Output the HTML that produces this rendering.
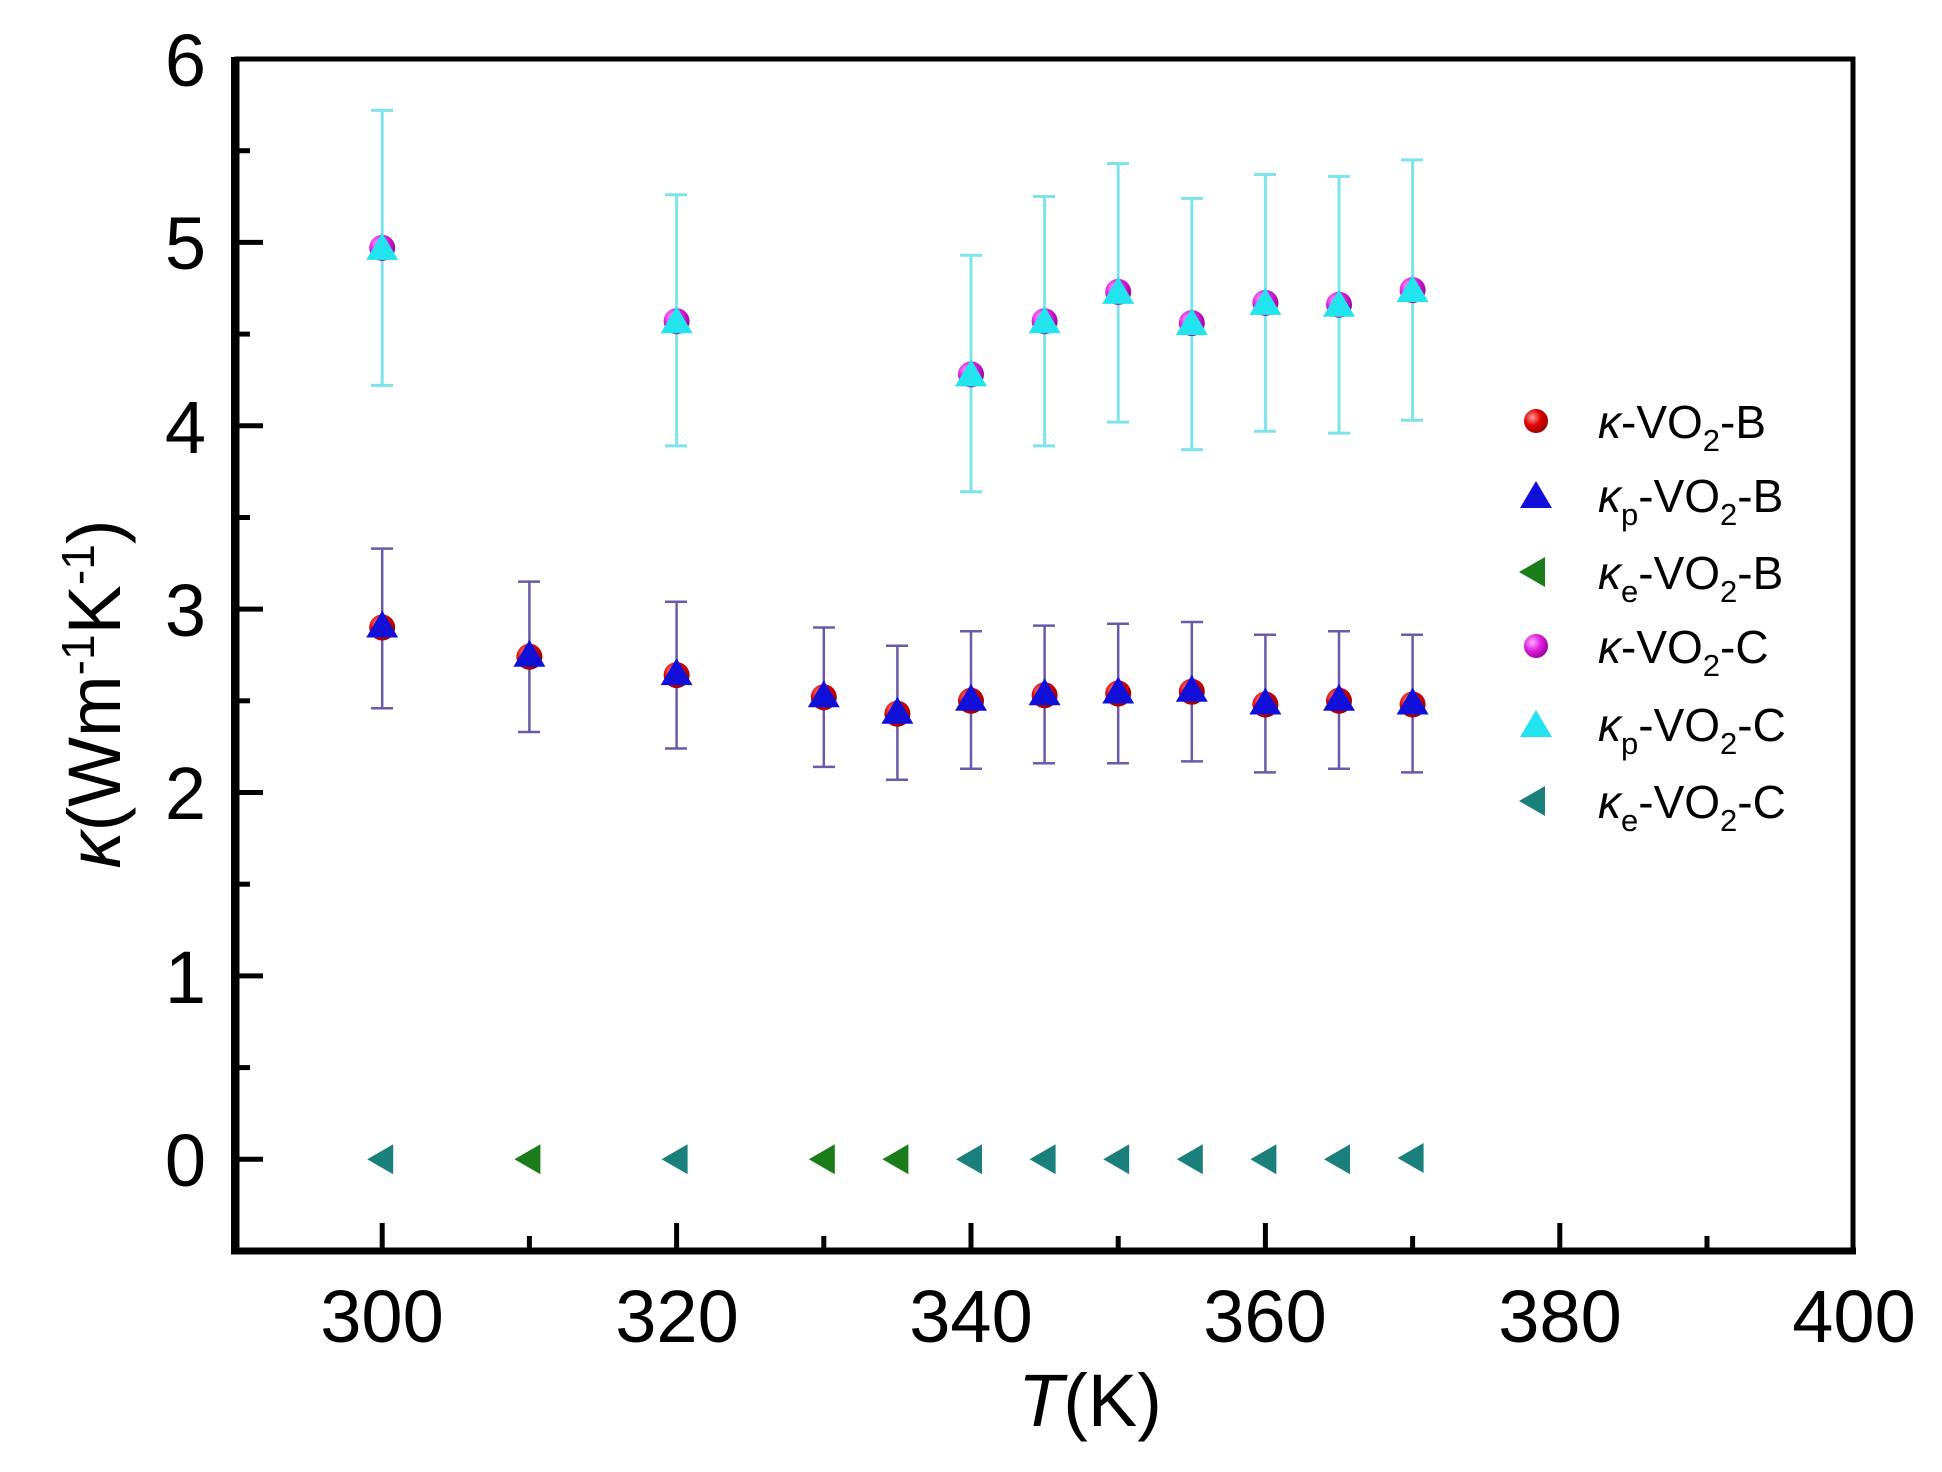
<!DOCTYPE html>
<html><head><meta charset="utf-8"><style>html,body{margin:0;padding:0;background:#fff}svg{display:block}</style></head>
<body>
<svg width="1942" height="1472" viewBox="0 0 1942 1472" xmlns="http://www.w3.org/2000/svg" font-family="Liberation Sans, Arial, sans-serif">
<defs>
<radialGradient id="gr" cx="0.35" cy="0.35" r="0.7"><stop offset="0" stop-color="#ff9a9a"/><stop offset="0.5" stop-color="#e00000"/><stop offset="1" stop-color="#900"/></radialGradient>
<radialGradient id="gm" cx="0.35" cy="0.35" r="0.7"><stop offset="0" stop-color="#ffb0ff"/><stop offset="0.5" stop-color="#e020e0"/><stop offset="1" stop-color="#909"/></radialGradient>
<path id="tu" d="M0,-15 L16,12 L-16,12Z"/>
<path id="tl" d="M-15,0 L11,-15 L11,15Z"/>
</defs>
<rect width="1942" height="1472" fill="#fff"/>

<g stroke="#000" stroke-width="5">
<line x1="235" y1="59" x2="263" y2="59"/>
<line x1="235" y1="242.4" x2="263" y2="242.4"/>
<line x1="235" y1="425.8" x2="263" y2="425.8"/>
<line x1="235" y1="609.1" x2="263" y2="609.1"/>
<line x1="235" y1="792.5" x2="263" y2="792.5"/>
<line x1="235" y1="975.9" x2="263" y2="975.9"/>
<line x1="235" y1="1159.3" x2="263" y2="1159.3"/>
<line x1="235" y1="150.7" x2="250" y2="150.7"/>
<line x1="235" y1="334.1" x2="250" y2="334.1"/>
<line x1="235" y1="517.5" x2="250" y2="517.5"/>
<line x1="235" y1="700.8" x2="250" y2="700.8"/>
<line x1="235" y1="884.2" x2="250" y2="884.2"/>
<line x1="235" y1="1067.6" x2="250" y2="1067.6"/>
<line x1="382.2" y1="1251" x2="382.2" y2="1223"/>
<line x1="676.6" y1="1251" x2="676.6" y2="1223"/>
<line x1="971" y1="1251" x2="971" y2="1223"/>
<line x1="1265.4" y1="1251" x2="1265.4" y2="1223"/>
<line x1="1559.8" y1="1251" x2="1559.8" y2="1223"/>
<line x1="529.4" y1="1251" x2="529.4" y2="1236"/>
<line x1="823.8" y1="1251" x2="823.8" y2="1236"/>
<line x1="1118.2" y1="1251" x2="1118.2" y2="1236"/>
<line x1="1412.6" y1="1251" x2="1412.6" y2="1236"/>
<line x1="1707" y1="1251" x2="1707" y2="1236"/>
</g>
<rect x="237" y="59" width="1616" height="1191" fill="none" stroke="#000" stroke-width="5"/>
<line x1="235" y1="57" x2="235" y2="1254" stroke="#000" stroke-width="8"/>
<line x1="231" y1="1251" x2="1856" y2="1251" stroke="#000" stroke-width="7"/>

<g font-size="74" text-anchor="end" fill="#000">
<text x="206" y="86">6</text>
<text x="206" y="269">5</text>
<text x="206" y="453">4</text>
<text x="206" y="636">3</text>
<text x="206" y="819">2</text>
<text x="206" y="1003">1</text>
<text x="206" y="1186">0</text>
</g>
<g font-size="74" text-anchor="middle" fill="#000">
<text x="382" y="1342">300</text>
<text x="677" y="1342">320</text>
<text x="971" y="1342">340</text>
<text x="1265" y="1342">360</text>
<text x="1560" y="1342">380</text>
<text x="1854" y="1342">400</text>
</g>
<text x="1090" y="1426" font-size="74" text-anchor="middle"><tspan font-style="italic">T</tspan>(K)</text>
<text transform="translate(120,694) rotate(-90)" font-size="74" text-anchor="middle"><tspan font-style="italic">κ</tspan>(Wm<tspan font-size="46" dy="-26">-1</tspan><tspan dy="26">K</tspan><tspan font-size="46" dy="-26">-1</tspan><tspan dy="26">)</tspan></text>

<g stroke="#7fe3ea" stroke-width="3">
<path d="M382.2,110.4V385.4M371,110.4h22M371,385.4h22"/>
<path d="M676.6,194.7V445.9M665,194.7h22M665,445.9h22"/>
<path d="M971,255.2V491.8M960,255.2h22M960,491.8h22"/>
<path d="M1044.6,196.5V445.9M1033,196.5h22M1033,445.9h22"/>
<path d="M1118.2,163.5V422.1M1107,163.5h22M1107,422.1h22"/>
<path d="M1191.8,198.4V449.6M1181,198.4h22M1181,449.6h22"/>
<path d="M1265.4,174.5V431.3M1254,174.5h22M1254,431.3h22"/>
<path d="M1339,176.4V433.1M1328,176.4h22M1328,433.1h22"/>
<path d="M1412.6,159.9V420.3M1401,159.9h22M1401,420.3h22"/>
</g>
<g stroke="#6a5aa8" stroke-width="2.5">
<path d="M382.2,548.6V708.2M371,548.6h22M371,708.2h22"/>
<path d="M529.4,581.6V732M518,581.6h22M518,732h22"/>
<path d="M676.6,601.8V748.5M665,601.8h22M665,748.5h22"/>
<path d="M823.8,627.5V766.9M813,627.5h22M813,766.9h22"/>
<path d="M897.4,645.8V779.7M886,645.8h22M886,779.7h22"/>
<path d="M971,631.2V768.7M960,631.2h22M960,768.7h22"/>
<path d="M1044.6,625.6V763.2M1033,625.6h22M1033,763.2h22"/>
<path d="M1118.2,623.8V763.2M1107,623.8h22M1107,763.2h22"/>
<path d="M1191.8,622V761.4M1181,622h22M1181,761.4h22"/>
<path d="M1265.4,634.8V772.4M1254,634.8h22M1254,772.4h22"/>
<path d="M1339,631.2V768.7M1328,631.2h22M1328,768.7h22"/>
<path d="M1412.6,634.8V772.4M1401,634.8h22M1401,772.4h22"/>
</g>

<g fill="url(#gr)">
<circle cx="382.2" cy="627.5" r="13"/><circle cx="529.4" cy="656.8" r="13"/><circle cx="676.6" cy="675.1" r="13"/><circle cx="823.8" cy="697.2" r="13"/><circle cx="897.4" cy="713.7" r="13"/><circle cx="971" cy="700.8" r="13"/><circle cx="1044.6" cy="695.3" r="13"/><circle cx="1118.2" cy="693.5" r="13"/><circle cx="1191.8" cy="691.7" r="13"/><circle cx="1265.4" cy="704.5" r="13"/><circle cx="1339" cy="700.8" r="13"/><circle cx="1412.6" cy="704.5" r="13"/>
</g>
<g fill="#1010d8">
<use href="#tu" x="382.2" y="625.5"/><use href="#tu" x="529.4" y="654.8"/><use href="#tu" x="676.6" y="673.1"/><use href="#tu" x="823.8" y="695.2"/><use href="#tu" x="897.4" y="711.7"/><use href="#tu" x="971" y="698.8"/><use href="#tu" x="1044.6" y="693.3"/><use href="#tu" x="1118.2" y="691.5"/><use href="#tu" x="1191.8" y="689.7"/><use href="#tu" x="1265.4" y="702.5"/><use href="#tu" x="1339" y="698.8"/><use href="#tu" x="1412.6" y="702.5"/>
</g>
<g fill="url(#gm)">
<circle cx="382.2" cy="247.9" r="13"/><circle cx="676.6" cy="321.2" r="13"/><circle cx="971" cy="374.4" r="13"/><circle cx="1044.6" cy="321.2" r="13"/><circle cx="1118.2" cy="291.9" r="13"/><circle cx="1191.8" cy="323.1" r="13"/><circle cx="1265.4" cy="302.9" r="13"/><circle cx="1339" cy="304.7" r="13"/><circle cx="1412.6" cy="290.1" r="13"/>
</g>
<g fill="#22e4ee">
<use href="#tu" x="382.2" y="247.9"/><use href="#tu" x="676.6" y="321.2"/><use href="#tu" x="971" y="374.4"/><use href="#tu" x="1044.6" y="321.2"/><use href="#tu" x="1118.2" y="291.9"/><use href="#tu" x="1191.8" y="323.1"/><use href="#tu" x="1265.4" y="302.9"/><use href="#tu" x="1339" y="304.7"/><use href="#tu" x="1412.6" y="290.1"/>
</g>
<g fill="#1a7d1a">
<use href="#tl" x="529.4" y="1159.3"/><use href="#tl" x="823.8" y="1159.3"/><use href="#tl" x="897.4" y="1159.3"/>
</g>
<g fill="#1b7f7c">
<use href="#tl" x="382.2" y="1159.3"/><use href="#tl" x="676.6" y="1159.3"/><use href="#tl" x="971" y="1159.3"/><use href="#tl" x="1044.6" y="1159.3"/><use href="#tl" x="1118.2" y="1159.3"/><use href="#tl" x="1191.8" y="1159.3"/><use href="#tl" x="1265.4" y="1159.3"/><use href="#tl" x="1339" y="1159.3"/><use href="#tl" x="1412.6" y="1158"/>
</g>

<circle cx="1536" cy="421" r="12" fill="url(#gr)"/>
<use href="#tu" x="1536" y="496" fill="#1010d8"/>
<use href="#tl" x="1534" y="572" fill="#1a7d1a"/>
<circle cx="1536" cy="646" r="12" fill="url(#gm)"/>
<use href="#tu" x="1536" y="725" fill="#22e4ee"/>
<use href="#tl" x="1534" y="801" fill="#1b7f7c"/>
<g font-size="46" fill="#000">
<text x="1598" y="438"><tspan font-style="italic">κ</tspan>-VO<tspan font-size="31" dy="13">2</tspan><tspan dy="-13">-B</tspan></text>
<text x="1598" y="512"><tspan font-style="italic">κ</tspan><tspan font-size="31" dy="13">p</tspan><tspan dy="-13">-VO</tspan><tspan font-size="31" dy="13">2</tspan><tspan dy="-13">-B</tspan></text>
<text x="1598" y="589"><tspan font-style="italic">κ</tspan><tspan font-size="31" dy="13">e</tspan><tspan dy="-13">-VO</tspan><tspan font-size="31" dy="13">2</tspan><tspan dy="-13">-B</tspan></text>
<text x="1598" y="663"><tspan font-style="italic">κ</tspan>-VO<tspan font-size="31" dy="13">2</tspan><tspan dy="-13">-C</tspan></text>
<text x="1598" y="741"><tspan font-style="italic">κ</tspan><tspan font-size="31" dy="13">p</tspan><tspan dy="-13">-VO</tspan><tspan font-size="31" dy="13">2</tspan><tspan dy="-13">-C</tspan></text>
<text x="1598" y="818"><tspan font-style="italic">κ</tspan><tspan font-size="31" dy="13">e</tspan><tspan dy="-13">-VO</tspan><tspan font-size="31" dy="13">2</tspan><tspan dy="-13">-C</tspan></text>
</g>
</svg>
</body></html>
